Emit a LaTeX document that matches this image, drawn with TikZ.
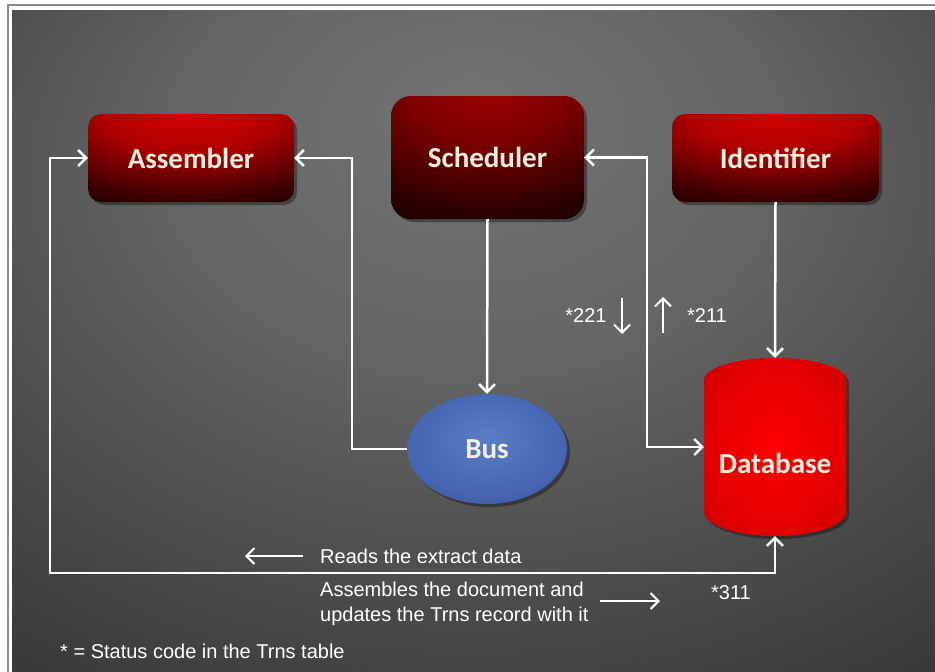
\documentclass[tikz,border=0pt]{standalone}
\usepackage{fontspec}
\setmainfont{Liberation Sans}
\newfontfamily\boxfont{Carlito}
\usepackage{tikz}
\usetikzlibrary{shapes,arrows.meta,positioning,calc,shadows}
\definecolor{labelcream}{RGB}{244,240,224}
\definecolor{framegray}{RGB}{140,140,140}
% shadings
\pgfdeclareradialshading{bgshade}{\pgfpoint{0bp}{18bp}}{%
  color(0bp)=(black!55); color(15bp)=(black!60); color(45bp)=(black!80);
  color(65bp)=(black!93); color(80bp)=(black!95)}
\pgfdeclareradialshading{redshade}{\pgfpoint{0bp}{35bp}}{%
  color(0bp)=(rgb,255:red,228;green,0;blue,0); color(22bp)=(rgb,255:red,175;green,0;blue,0);
  color(42bp)=(rgb,255:red,60;green,0;blue,0); color(53bp)=(rgb,255:red,18;green,0;blue,0);
  color(90bp)=(rgb,255:red,25;green,0;blue,0)}
\pgfdeclareradialshading{schedshade}{\pgfpoint{0bp}{38bp}}{%
  color(0bp)=(rgb,255:red,170;green,0;blue,0); color(22bp)=(rgb,255:red,125;green,0;blue,0);
  color(44bp)=(rgb,255:red,40;green,0;blue,0); color(55bp)=(rgb,255:red,14;green,0;blue,0);
  color(95bp)=(rgb,255:red,18;green,0;blue,0)}
\pgfdeclareradialshading{dbshade}{\pgfpoint{0bp}{0bp}}{%
  color(0bp)=(rgb,255:red,255;green,0;blue,0); color(25bp)=(rgb,255:red,225;green,0;blue,0);
  color(50bp)=(rgb,255:red,180;green,0;blue,0); color(70bp)=(rgb,255:red,150;green,0;blue,0)}
\pgfdeclareradialshading{busshade}{\pgfpoint{0bp}{5bp}}{%
  color(0bp)=(rgb,255:red,90;green,125;blue,200); color(25bp)=(rgb,255:red,70;green,100;blue,175);
  color(45bp)=(rgb,255:red,40;green,65;blue,125); color(70bp)=(rgb,255:red,25;green,45;blue,95)}
\tikzset{
  >={Straight Barb[length=8pt,width=16pt]},
  boxtext/.style={text=labelcream, font=\boxfont\bfseries\fontsize{29}{33}\selectfont},
  softshadow/.style={drop shadow={fill=black, opacity=0.35, shadow xshift=3pt, shadow yshift=-3pt}},
  redbox/.style={boxtext, rounded corners=13pt, shading=redshade, softshadow},
  flow/.style={draw=white, line width=2.5pt},
  note/.style={text=white, font=\fontsize{20}{24}\selectfont, inner sep=0pt}
}
\begin{document}
\begin{tikzpicture}[x=1pt, y=-1pt]
    \useasboundingbox (0,0) rectangle (935,672);
    % Background
    \shade[shading=bgshade] (12,10) rectangle (935,672);
    \draw[framegray, line width=1.2pt] (7,5) -- (935,5);
    \draw[framegray, line width=1.2pt] (8,5) -- (8,672);

    % Boxes
    \node[redbox, minimum width=206, minimum height=88] (assembler) at (191,158) {Assembler};
    \node[redbox, shading=schedshade, rounded corners=20pt, minimum width=193, minimum height=123] (scheduler) at (487.5,157.5) {Scheduler};
    \node[redbox, minimum width=207, minimum height=88] (identifier) at (775.5,158) {Identifier};

    % Bus
    \node[boxtext, ellipse, shading=busshade, minimum width=160, minimum height=110, softshadow] (bus) at (487,449) {Bus};

    % Database (cylinder drawn round an empty node)
    \node[minimum width=142, minimum height=178, inner sep=0pt] (database) at (775,447) {};
    \fill[black, opacity=0.35] (707,383) -- (707,515) arc[start angle=180, end angle=0, x radius=71, y radius=24]
      -- (849,383) arc[start angle=0, end angle=-180, x radius=71, y radius=22] -- cycle;
    \shade[shading=dbshade] (704,380) -- (704,512) arc[start angle=180, end angle=0, x radius=71, y radius=24]
      -- (846,380) arc[start angle=0, end angle=-180, x radius=71, y radius=22] -- cycle;
    \node[boxtext] (dblabel) at (775,463) {Database};

    % Corner points
    \coordinate (busL) at (352,449);
    \coordinate (dbL) at (647,447);
    \coordinate (loopL) at (50,573);

    % Edges
    \draw[flow,->] (scheduler.south) -- (bus.north);
    \draw[flow,->] (bus.west) -- (busL) |- (assembler.east);
    \draw[flow,->] (identifier.south) -- (database.north);
    \draw[flow,<->] (scheduler.east) -| (dbL) -- (database.west);
    \draw[flow,<->] (assembler.west) -| (loopL) -| (database.south);

    % Status codes
    \coordinate (downA) at (622,298);
    \coordinate (downB) at (622,334);
    \coordinate (upA) at (663,333);
    \coordinate (upB) at (663,297);
    \draw[flow,line width=2pt,->] (downA) -- (downB);
    \draw[flow,line width=2pt,->] (upA) -- (upB);
    \node[note] (c221) at (586,316) {*221};
    \node[note] (c211) at (707,316) {*211};
    \node[note] (c311) at (731,593) {*311};

    % Notes along the loop
    \coordinate (readA) at (303,556);
    \coordinate (readB) at (245,556);
    \draw[flow,line width=2pt,->] (readA) -- (readB);
    \node[note, anchor=west] (reads) at (320,556) {Reads the extract data};
    \node[note, anchor=north west, align=left, font=\fontsize{20}{25}\selectfont] (assembles) at (320,582)
      {Assembles the document and\\updates the Trns record with it};
    \coordinate (asmA) at (600,601);
    \coordinate (asmB) at (660,601);
    \draw[flow,line width=2pt,->] (asmA) -- (asmB);

    % Legend
    \node[note, anchor=west] (legend) at (60,651) {* = Status code in the Trns table};
\end{tikzpicture}
\end{document}
